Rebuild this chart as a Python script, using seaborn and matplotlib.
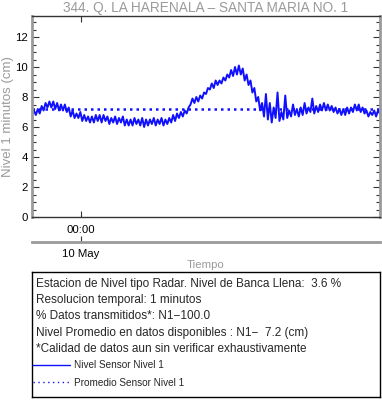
import numpy as np
import pandas as pd
import matplotlib
matplotlib.use("Agg")
import matplotlib.pyplot as plt
import matplotlib.dates as mdates
from matplotlib.lines import Line2D
from matplotlib.ticker import MultipleLocator
import seaborn as sns

# Nivel 1 minutos (cm), leido cada 8 minutos (con el ruido del sensor)
nivel = [
    6.8, 7.1, 6.8, 7.2, 6.9, 7.4, 7.1, 7.6, 7.3, 7.7,
    7.3, 7.7, 7.2, 7.6, 7.1, 7.5, 7.1, 7.5, 7.0, 7.3,
    6.7, 7.1, 6.6, 6.9, 6.6, 7.0, 6.4, 6.8, 6.4, 6.7,
    6.3, 6.7, 6.3, 6.8, 6.4, 6.8, 6.3, 6.8, 6.4, 6.7,
    6.2, 6.6, 6.3, 6.7, 6.2, 6.6, 6.3, 6.7, 6.1, 6.5,
    6.1, 6.5, 6.1, 6.6, 6.2, 6.5, 6.1, 6.6, 6.0, 6.5,
    6.1, 6.5, 6.2, 6.6, 6.1, 6.5, 6.2, 6.6, 6.1, 6.5,
    6.2, 6.6, 6.3, 6.8, 6.4, 6.9, 6.6, 7.0, 6.7, 7.1,
    6.9, 7.3, 7.5, 7.9, 7.6, 8.0, 7.7, 8.1, 7.9, 8.3,
    8.2, 8.6, 8.5, 8.9, 8.6, 9.1, 8.8, 9.1, 8.9, 9.3,
    9.1, 9.5, 9.3, 9.8, 9.4, 10.0, 9.5, 10.1, 9.5, 9.9,
    9.1, 9.5, 8.8, 9.1, 8.3, 8.6, 7.7, 8.0, 7.1, 7.6,
    6.7, 8.2, 6.5, 7.6, 6.3, 7.3, 6.6, 8.3, 6.4, 7.0,
    6.5, 8.1, 6.6, 7.1, 6.7, 7.5, 6.8, 7.2, 6.7, 7.3,
    6.8, 7.6, 6.9, 7.3, 7.0, 7.9, 6.9, 7.4, 7.0, 7.5,
    7.1, 7.6, 7.1, 7.5, 7.1, 7.4, 7.0, 7.3, 6.9, 7.2,
    6.8, 7.2, 6.8, 7.3, 6.9, 7.3, 7.0, 7.5, 7.1, 7.5,
    7.0, 7.3, 6.9, 7.1, 6.7, 7.0, 6.8, 7.1, 6.7, 7.1,
    6.9,
]
promedio = 7.2
tiempo = pd.date_range("2023-05-09 20:38", periods=len(nivel), freq="8min")

df = pd.DataFrame({"Tiempo": tiempo, "Nivel": nivel})
df["Promedio"] = promedio

titulo = "344. Q. LA HARENALA \u2013 SANTA MARIA NO. 1"
lineas_info = [
    "Estacion de Nivel tipo Radar. Nivel de Banca Llena:  3.6 %",
    "Resolucion temporal: 1 minutos",
    "% Datos transmitidos*: N1\u2212100.0",
    "Nivel Promedio en datos disponibles : N1\u2212  7.2 (cm)",
    "*Calidad de datos aun sin verificar exhaustivamente",
]

sns.set_style("ticks")
plt.rcParams["font.family"] = ["Liberation Sans", "DejaVu Sans"]

gris = "#9a9a9a"
azul = "#1010ff"

fig = plt.figure(figsize=(3.82, 4.04), dpi=100)
W, H = 382, 404
ax = fig.add_axes([32 / W, 1 - 217 / H, 348 / W, 201 / H])

sns.lineplot(data=df, x="Tiempo", y="Nivel", ax=ax, color=azul, lw=1.4)
sns.lineplot(data=df, x="Tiempo", y="Promedio", ax=ax, color=azul, lw=1.8,
             linestyle=(0, (1, 1.6)))

ax.set_xlim(tiempo[0], tiempo[-1])
ax.set_ylim(0, 13.4)
ax.yaxis.set_major_locator(MultipleLocator(2))
ax.yaxis.set_minor_locator(MultipleLocator(0.5))
ax.xaxis.set_major_locator(mdates.DayLocator())
ax.xaxis.set_major_formatter(mdates.DateFormatter("%H:%M"))

ax.tick_params(axis="both", which="both", direction="in", colors="#333333",
               labelcolor="black", labelsize=8.2, top=True, right=True)
ax.tick_params(axis="y", which="major", length=5, width=0.8)
ax.tick_params(axis="y", which="minor", length=3, width=0.8)
ax.tick_params(axis="x", which="major", length=4, width=0.8, pad=6)
ax.tick_params(axis="y", pad=3)

for s in ["left", "right"]:
    ax.spines[s].set_color(gris)
    ax.spines[s].set_linewidth(2)
for s in ["top", "bottom"]:
    ax.spines[s].set_color("#333333")
    ax.spines[s].set_linewidth(1)

ax.set_xlabel("")
ax.set_ylabel("Nivel 1 minutos (cm)", color=gris, fontsize=9.5, labelpad=1)
ax.set_title(titulo, color=gris, fontsize=9.8, pad=3)

# segundo eje con la fecha
sec = ax.secondary_xaxis(-25 / 201)
sec.xaxis.set_major_locator(mdates.DayLocator())
sec.xaxis.set_major_formatter(mdates.DateFormatter("%d %b"))
sec.spines["bottom"].set_color(gris)
sec.spines["bottom"].set_linewidth(2)
sec.tick_params(direction="in", length=4, width=0.8, colors="#333333",
                labelcolor="black", labelsize=8.2, pad=5)

fig.text((32 + 380) / 2 / W, 1 - 265 / H, "Tiempo", color=gris, fontsize=8.2,
         ha="center", va="center")

# cuadro de informacion
box = fig.add_axes([32 / W, 1 - 397 / H, 348 / W, 125 / H])
box.set_xticks([])
box.set_yticks([])
for s in box.spines.values():
    s.set_color("black")
    s.set_linewidth(1)
for i, t in enumerate(lineas_info):
    box.text(4 / 348, 1 - (12 + 16.2 * i) / 125, t, transform=box.transAxes,
             fontsize=8.5, va="center", ha="left")

handles = [
    Line2D([], [], color=azul, lw=1),
    Line2D([], [], color=azul, lw=1, linestyle=(0, (1, 2.5))),
]
box.legend(handles, ["Nivel Sensor Nivel 1", "Promedio Sensor Nivel 1"],
           loc="upper left", bbox_to_anchor=(0.0, 1 - 87 / 125),
           frameon=False, fontsize=7.2, handlelength=3.7, handletextpad=0.35,
           labelspacing=0.75, borderaxespad=0, borderpad=0.1)

fig.savefig("out.png", dpi=100)
